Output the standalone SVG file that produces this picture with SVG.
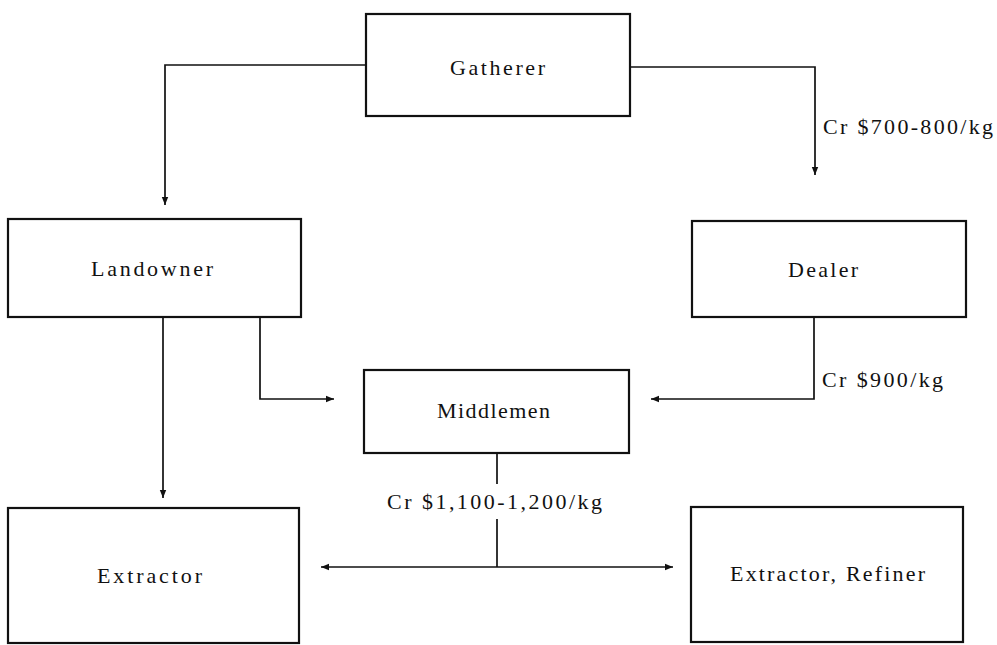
<svg xmlns="http://www.w3.org/2000/svg" width="997" height="645" viewBox="0 0 997 645">
<style>
.box{fill:none;stroke:#111;stroke-width:2.2}
.ln{fill:none;stroke:#111;stroke-width:1.7}
text{font-family:"Liberation Serif","Times New Roman",serif;font-size:22px;fill:#111}
</style>
<defs>
<marker id="ah" viewBox="0 0 10 10" refX="10" refY="5" markerWidth="11" markerHeight="8" markerUnits="userSpaceOnUse" orient="auto">
<path d="M0,1 L10,5 L0,9 Z" fill="#111"/>
</marker>
</defs>
<rect width="997" height="645" fill="#fff"/>
<g id="gatherer"><rect class="box" x="366" y="14" width="264" height="102"/><text x="450" y="75" textLength="95" lengthAdjust="spacing">Gatherer</text></g>
<g id="landowner"><rect class="box" x="8" y="219" width="293" height="98"/><text x="91" y="276" textLength="122" lengthAdjust="spacing">Landowner</text></g>
<g id="dealer"><rect class="box" x="692" y="221" width="274" height="96"/><text x="788" y="277" textLength="70" lengthAdjust="spacing">Dealer</text></g>
<g id="middlemen"><rect class="box" x="364" y="370" width="265" height="83"/><text x="437" y="418" textLength="113" lengthAdjust="spacing">Middlemen</text></g>
<g id="extractor"><rect class="box" x="8" y="508" width="291" height="135"/><text x="97" y="583" textLength="105" lengthAdjust="spacing">Extractor</text></g>
<g id="refiner"><rect class="box" x="691" y="507" width="272" height="135"/><text x="730" y="581" textLength="195" lengthAdjust="spacing">Extractor, Refiner</text></g>
<g id="connectors">
<path class="ln" d="M366,65 H165 V205" marker-end="url(#ah)"/>
<path class="ln" d="M630,67 H815 V175" marker-end="url(#ah)"/>
<text x="823" y="134" textLength="170" lengthAdjust="spacing">Cr $700-800/kg</text>
<path class="ln" d="M163,317 V498" marker-end="url(#ah)"/>
<path class="ln" d="M260,317 V399 H334" marker-end="url(#ah)"/>
<path class="ln" d="M814,317 V399 H651" marker-end="url(#ah)"/>
<text x="822" y="387" textLength="121" lengthAdjust="spacing">Cr $900/kg</text>
<path class="ln" d="M497,453 V484"/>
<text x="387" y="509" textLength="215" lengthAdjust="spacing">Cr $1,100-1,200/kg</text>
<path class="ln" d="M497,519 V567"/>
<path class="ln" d="M497,567 H321" marker-end="url(#ah)"/>
<path class="ln" d="M497,567 H673" marker-end="url(#ah)"/>
</g>
</svg>
